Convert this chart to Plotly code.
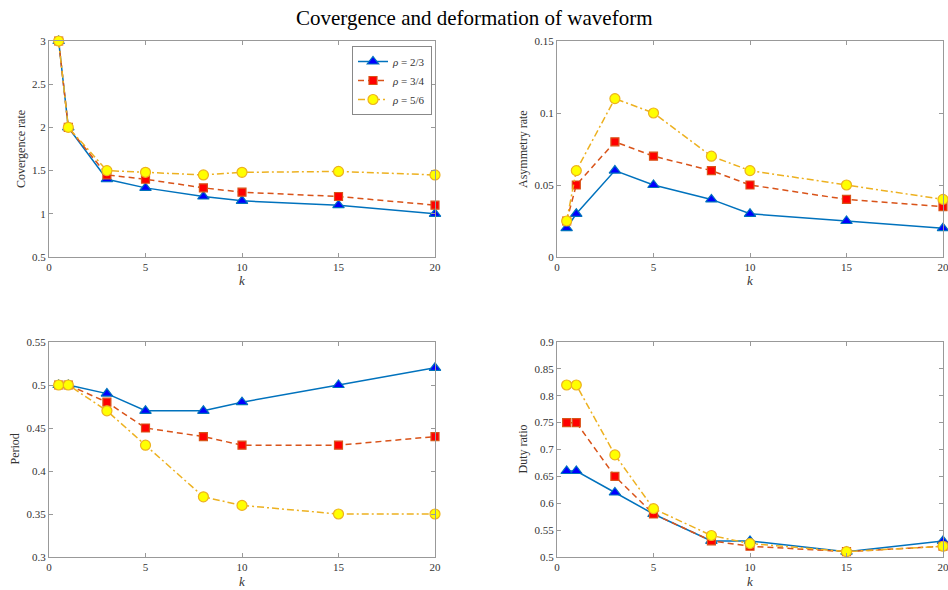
import plotly.graph_objects as go

k = [0.5, 1, 3, 5, 8, 10, 15, 20]
series_names = ["<i>ρ</i> = 2/3", "<i>ρ</i> = 3/4", "<i>ρ</i> = 5/6"]

conv_23 = [3, 2, 1.4, 1.3, 1.2, 1.15, 1.1, 1.0]
conv_34 = [3, 2, 1.45, 1.4, 1.3, 1.25, 1.2, 1.1]
conv_56 = [3, 2, 1.5, 1.48, 1.45, 1.48, 1.49, 1.45]

asym_23 = [0.02, 0.03, 0.06, 0.05, 0.04, 0.03, 0.025, 0.02]
asym_34 = [0.025, 0.05, 0.08, 0.07, 0.06, 0.05, 0.04, 0.035]
asym_56 = [0.025, 0.06, 0.11, 0.10, 0.07, 0.06, 0.05, 0.04]

per_23 = [0.5, 0.5, 0.49, 0.47, 0.47, 0.48, 0.50, 0.52]
per_34 = [0.5, 0.5, 0.48, 0.45, 0.44, 0.43, 0.43, 0.44]
per_56 = [0.5, 0.5, 0.47, 0.43, 0.37, 0.36, 0.35, 0.35]

duty_23 = [0.66, 0.66, 0.62, 0.58, 0.53, 0.53, 0.51, 0.53]
duty_34 = [0.75, 0.75, 0.65, 0.58, 0.53, 0.52, 0.51, 0.52]
duty_56 = [0.82, 0.82, 0.69, 0.59, 0.54, 0.525, 0.51, 0.52]

panels = [
    ("Covergence rate", [conv_23, conv_34, conv_56], [0.5, 3], 0.5),
    ("Asymmetry rate", [asym_23, asym_34, asym_56], [0, 0.15], 0.05),
    ("Period", [per_23, per_34, per_56], [0.3, 0.55], 0.05),
    ("Duty ratio", [duty_23, duty_34, duty_56], [0.5, 0.9], 0.05),
]

W, H = 948, 590
# pixel boxes (left, right, top, bottom)
boxes = [(49, 435, 41, 257), (557, 943, 41, 257), (49, 435, 342, 557), (557, 943, 342, 557)]
ylabel_offsets = [28, 34, 35, 35]

styles = [
    dict(line=dict(color="#0072BD", width=1.5, dash="solid"),
         marker=dict(symbol="triangle-up", size=10, color="#0000FF", line=dict(color="#0072BD", width=1.2))),
    dict(line=dict(color="#D95319", width=1.5, dash="6px,4px"),
         marker=dict(symbol="square", size=8, color="#FF0000", line=dict(color="#D95319", width=1.2))),
    dict(line=dict(color="#EDB120", width=1.5, dash="7px,3px,2px,3px"),
         marker=dict(symbol="circle", size=10, color="#FFFF00", line=dict(color="#EDB120", width=1.2))),
]

fig = go.Figure()
layout = {}
annotations = []
font_family = "Liberation Serif"
gray = "#999999"
for i, (ylabel, ys, yrange, dtick) in enumerate(panels):
    n = "" if i == 0 else str(i + 1)
    l, r, t, b = boxes[i]
    xdom = [l / W, r / W]
    ydom = [1 - b / H, 1 - t / H]
    for j, y in enumerate(ys):
        fig.add_trace(go.Scatter(
            x=k, y=y, mode="lines+markers", name=series_names[j],
            showlegend=(i == 0), xaxis="x" + n, yaxis="y" + n, cliponaxis=False,
            **styles[j]))
    common = dict(showline=True, linecolor=gray, linewidth=1, mirror="ticks",
                  ticks="inside", ticklen=4, tickcolor=gray, showgrid=False, zeroline=False,
                  automargin=False, ticklabeloverflow="allow",
                  tickfont=dict(family=font_family, size=11, color="#333333"))
    layout["xaxis" + n] = dict(domain=xdom, range=[0, 20], tickvals=[0, 5, 10, 15, 20],
                               anchor="y" + n, **common)
    layout["yaxis" + n] = dict(domain=ydom, range=yrange, dtick=dtick, tick0=yrange[0],
                               anchor="x" + n, **common)
    annotations.append(dict(text="<i>k</i>", x=(l + r) / 2 / W, y=1 - (b + 24) / H,
                            xref="paper", yref="paper", showarrow=False,
                            xanchor="center", yanchor="middle",
                            font=dict(family=font_family, size=13, color="#333333")))
    annotations.append(dict(text=ylabel, x=(l - ylabel_offsets[i]) / W, y=1 - (t + b) / 2 / H,
                            xref="paper", yref="paper", showarrow=False, textangle=-90,
                            xanchor="center", yanchor="middle",
                            font=dict(family=font_family, size=12, color="#333333")))

annotations.append(dict(text="Covergence and deformation of waveform", x=0.5, y=1 - 18 / H,
                        xref="paper", yref="paper", showarrow=False,
                        xanchor="center", yanchor="middle",
                        font=dict(family=font_family, size=21, color="#000000")))

fig.update_layout(
    template="none",
    width=W, height=H, margin=dict(l=0, r=0, t=0, b=0, autoexpand=False),
    plot_bgcolor="white", paper_bgcolor="white",
    annotations=annotations,
    legend=dict(x=432 / W, y=1 - 46 / H, xanchor="right", yanchor="top",
                bgcolor="white", bordercolor="#888888", borderwidth=1,
                font=dict(family=font_family, size=11, color="#333333"),
                tracegroupgap=0, itemwidth=30),
    showlegend=True,
    **layout,
)

fig.write_html("out.html")
